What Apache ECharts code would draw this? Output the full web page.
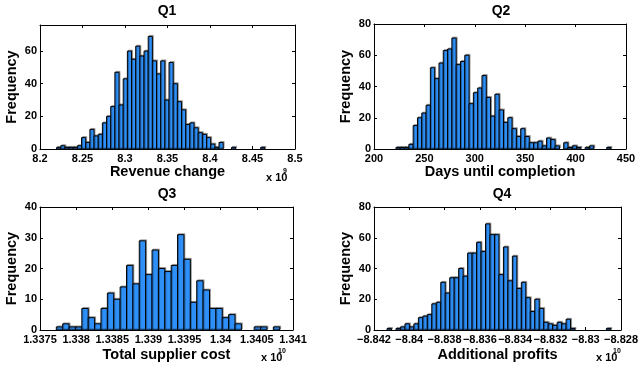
<!DOCTYPE html>
<html>
<head>
<meta charset="utf-8">
<script src="https://cdn.jsdelivr.net/npm/echarts@6/dist/echarts.min.js"></script>
<style>
html, body { margin: 0; padding: 0; background: #fff; }
#chart { width: 641px; height: 366px; }
</style>
</head>
<body>
<div id="chart"></div>
<script>
// Q1 - revenue change (x 10^9)
var q1Start = 8.2195
var q1Width = 0.0049
var q1Counts = [1, 2, 1, 1, 1, 2, 7, 4, 12, 8, 9, 16, 20, 26, 47, 27, 43, 60, 55, 63, 57, 60, 69, 54, 46, 54, 30, 53, 40, 29, 24, 15, 16, 13, 10, 9, 7, 3, 1, 4, 0, 0, 1, 0, 0, 0, 0, 0, 0, 1]

// Q2 - days until completion
var q2Start = 221.8
var q2Width = 4.266
var q2Counts = [1, 1, 1, 3, 15, 20, 23, 28, 52, 45, 55, 63, 64, 71, 54, 56, 60, 29, 36, 39, 47, 33, 21, 35, 25, 17, 20, 13, 8, 13, 8, 4, 4, 5, 2, 7, 6, 2, 0, 4, 1, 2, 1, 0, 1, 2, 0, 0, 0, 1]

// Q3 - total supplier cost (x 10^10)
var q3Start = 1.3377255
var q3Width = 0.0000883
var q3Counts = [1, 2, 1, 1, 7, 4, 2, 7, 12, 10, 14, 21, 15, 29, 18, 26, 20, 19, 21, 31, 23, 9, 16, 13, 7, 7, 4, 5, 2, 0, 0, 1, 1, 0, 1]

// Q4 - additional profits (x 10^10)
var q4Start = -8.841261
var q4Width = 0.0002537
var q4Counts = [1, 0, 1, 2, 4, 2, 4, 8, 9, 10, 17, 18, 31, 24, 34, 34, 40, 35, 50, 50, 57, 51, 69, 62, 62, 36, 54, 32, 48, 27, 31, 21, 12, 20, 14, 5, 4, 3, 5, 4, 7, 1, 0, 0, 0, 0, 0, 0, 0, 1]

var titles = ['Q1', 'Q2', 'Q3', 'Q4']
var xNames = ['Revenue change', 'Days until completion', 'Total supplier cost', 'Additional profits']
var xRanges = [[8.2, 8.5, 0.05], [200, 450, 50], [1.3375, 1.341, 0.0005], [-8.842, -8.828, 0.002]]
var yRanges = [[0, 76, 20], [0, 80, 20], [0, 40, 10], [0, 80, 20]]

var FONT = '"Liberation Sans", Arial, Helvetica, sans-serif'
var BAR = '#2e8ff7'

var grids = [
  { left: 40, top: 25, width: 255, height: 124 },
  { left: 374, top: 24, width: 252, height: 125 },
  { left: 40, top: 207, width: 253, height: 123 },
  { left: 374, top: 207, width: 252, height: 123 },
]

function bins(start, width, counts) {
  return counts.map(function (c, i) {
    return [start + i * width, start + (i + 1) * width, c]
  })
}

var binData = [
  bins(q1Start, q1Width, q1Counts),
  bins(q2Start, q2Width, q2Counts),
  bins(q3Start, q3Width, q3Counts),
  bins(q4Start, q4Width, q4Counts),
]

function renderBar(params, api) {
  if (!api.value(2)) return null
  var p0 = api.coord([api.value(0), 0])
  var p1 = api.coord([api.value(1), api.value(2)])
  return {
    type: 'rect',
    shape: { x: p0[0], y: p1[1], width: p1[0] - p0[0], height: p0[1] - p1[1] },
    style: {
      fill: BAR,
      stroke: '#000',
      lineWidth: 1,
      shadowColor: 'rgba(0,0,0,0.3)',
      shadowOffsetX: 1,
      shadowOffsetY: -1,
      shadowBlur: 0,
    },
  }
}

function fmtNum(v) {
  return String(v).replace('-', '\u2212')
}

var xAxes = []
var yAxes = []
var series = []
var axisLine = { show: true, onZero: false, lineStyle: { color: '#000', width: 1 } }
var tick = { show: true, inside: true, length: 3, lineStyle: { color: '#000' } }
var labelStyle = { color: '#000', fontSize: 11, fontWeight: 'bold', fontFamily: FONT }

for (var i = 0; i < 4; i++) {
  var xr = xRanges[i]
  var yr = yRanges[i]
  var lower = i >= 2
  xAxes.push({
    type: 'value', gridIndex: i, position: 'bottom',
    min: xr[0], max: xr[1], interval: xr[2],
    name: xNames[i], nameLocation: 'middle', nameGap: lower ? 17 : 15,
    nameTextStyle: { color: '#000', fontSize: 14.5, fontWeight: 'bold', fontFamily: FONT },
    axisLine: axisLine, axisTick: tick, splitLine: { show: false },
    axisLabel: Object.assign({ margin: 4, formatter: fmtNum }, labelStyle),
  })
  xAxes.push({
    type: 'value', gridIndex: i, position: 'top',
    min: xr[0], max: xr[1], interval: xr[2],
    axisLine: axisLine, axisTick: tick, splitLine: { show: false },
    axisLabel: { show: false },
  })
  yAxes.push({
    type: 'value', gridIndex: i, position: 'left',
    min: yr[0], max: yr[1], interval: yr[2],
    name: 'Frequency', nameLocation: 'middle', nameGap: 21,
    nameTextStyle: { color: '#000', fontSize: 14.5, fontWeight: 'bold', fontFamily: FONT },
    axisLine: axisLine, axisTick: tick, splitLine: { show: false },
    axisLabel: Object.assign({
      margin: 3,
      formatter: (function (step) {
        return function (v) { return v % step === 0 ? String(v) : '' }
      })(yr[2]),
    }, labelStyle),
  })
  yAxes.push({
    type: 'value', gridIndex: i, position: 'right',
    min: yr[0], max: yr[1], interval: yr[2],
    axisLine: axisLine, axisTick: tick, splitLine: { show: false },
    axisLabel: { show: false },
  })
  series.push({
    type: 'custom',
    xAxisIndex: i * 2,
    yAxisIndex: i * 2,
    renderItem: renderBar,
    encode: { x: [0, 1], y: 2 },
    data: binData[i],
    silent: true,
  })
}

var titleCenters = [[167, 4], [501, 4], [167, 187], [502, 187]]
var title = titles.map(function (t, i) {
  return {
    text: t, left: titleCenters[i][0], top: titleCenters[i][1], textAlign: 'center', padding: 0,
    textStyle: { color: '#000', fontSize: 14, fontWeight: 'bold', fontFamily: FONT },
  }
})

function expo(x, y, power) {
  return [
    { type: 'text', left: x, top: y, style: { text: 'x 10', fill: '#000', font: 'bold 11px ' + FONT } },
    { type: 'text', left: x + 17, top: y - 4, style: { text: power, fill: '#000', font: 'bold 7px ' + FONT } },
  ]
}

var chart = echarts.init(document.getElementById('chart'))
chart.setOption({
  backgroundColor: '#fff',
  animation: false,
  title: title,
  grid: grids,
  xAxis: xAxes,
  yAxis: yAxes,
  series: series,
  graphic: [].concat(expo(266, 172, '9'), expo(261, 352, '10'), expo(596, 352, '10')),
})
</script>
</body>
</html>
